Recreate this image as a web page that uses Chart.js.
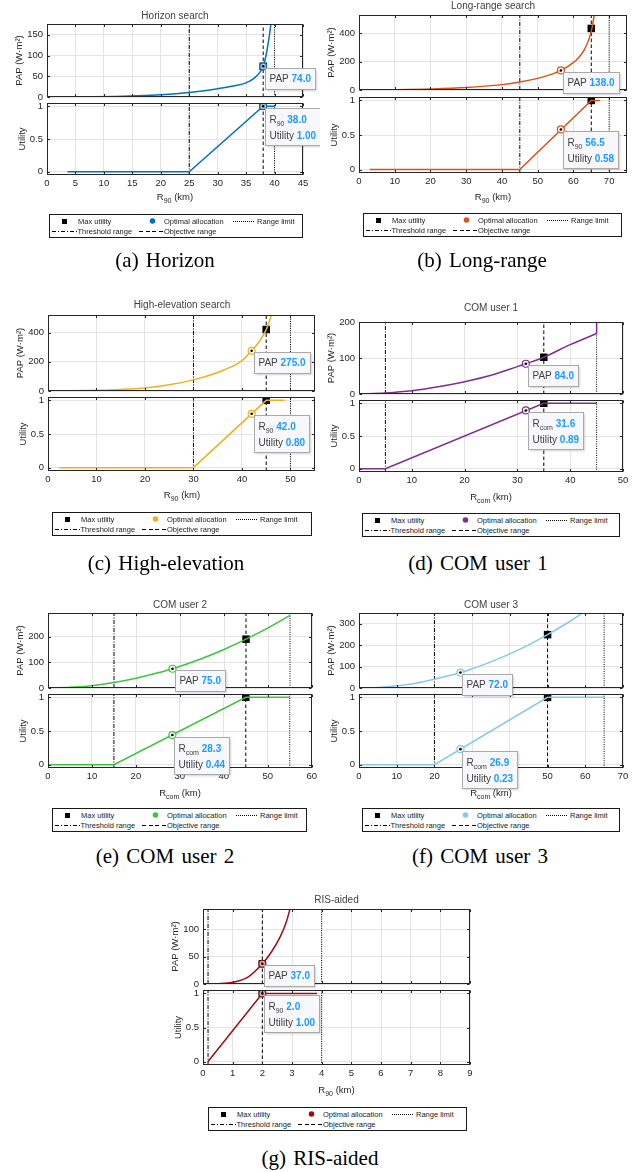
<!DOCTYPE html>
<html>
<head>
<meta charset="utf-8">
<script src="https://cdn.jsdelivr.net/npm/chart.js@4.4.1/dist/chart.umd.min.js"></script>
<style>
  body { margin: 0; background: #fff; }
  #page { position: relative; width: 639px; height: 1172px; overflow: hidden;
          font-family: 'Liberation Sans', Arial, Helvetica, sans-serif; }
  canvas { position: absolute; }
  .title { position: absolute; font-size: 10px; line-height: 12px; color: #404040;
           transform: translate(-50%, -50%); white-space: nowrap; }
  .xlabel { position: absolute; font-size: 9.5px; line-height: 12px; color: #262626;
            transform: translate(-50%, -50%); white-space: nowrap; }
  .xlabel sub { font-size: 7px; line-height: 0; vertical-align: -3px; }
  .legend { position: absolute; box-sizing: border-box; height: 24px; border: 1px solid #1a1a1a;
            background: #fff; font-size: 7.5px; color: #1a1a1a; }
  .legend span { position: absolute; line-height: 9px; white-space: nowrap; }
  .legend svg { position: absolute; left: 0; top: 0; }
  .caption { position: absolute; font-family: 'Liberation Serif', 'Times New Roman', serif;
             font-size: 21px; line-height: 21px; color: #000; transform: translateX(-50%);
             white-space: nowrap; word-spacing: 2px; }
</style>
</head>
<body>
<div id="page"></div>
<script>
// Horizon search
const horizonR = [3.6, 8, 12, 16, 20, 25, 30, 33, 35, 36.5, 37.5, 38, 38.5, 39, 39.4];
const horizonPap = [0, 0.6, 1.5, 3, 5.5, 11, 20, 27, 34, 46, 61, 74, 100, 140, 180];
const horizonUtilR = [3.6, 25, 38, 40];
const horizonUtil = [0, 0, 1, 1];
const horizonRanges = [25, 38, 40];        // threshold, objective, range limit
const horizonMax = [38, 74];               // R and PAP at max utility
const horizonOptimal = [38, 74, 1.00];     // R, PAP, utility
const horizonLimits = [45, 176];           // x max, PAP max
const horizonPapTicks = [0, 50, 100, 150];
const horizonXTicks = [0, 5, 10, 15, 20, 25, 30, 35, 40, 45];

// Long-range search
const longR = [3, 10, 20, 30, 40, 45, 50, 54, 56.5, 59, 61, 63, 64.5, 65.3, 66];
const longPap = [0, 2, 7, 17, 38, 56, 82, 112, 138, 176, 215, 282, 370, 450, 560];
const longUtilR = [3, 45, 65, 67.5];
const longUtil = [0, 0, 1, 1];
const longRanges = [45, 65, 70];
const longMax = [65, 435];
const longOptimal = [56.5, 138, 0.58];
const longLimits = [75, 530];
const longPapTicks = [0, 200, 400];
const longXTicks = [0, 10, 20, 30, 40, 50, 60, 70];

// High-elevation search
const highR = [2.3, 10, 15, 20, 25, 30, 35, 38, 40, 42, 43.5, 45, 46.3];
const highPap = [0, 5, 11, 21, 42, 76, 127, 168, 208, 275, 335, 420, 540];
const highUtilR = [2.3, 30, 45, 48.8];
const highUtil = [0, 0, 1, 1];
const highRanges = [30, 45, 50];
const highMax = [45, 420];
const highOptimal = [42, 275, 0.80];
const highLimits = [55, 520];
const highPapTicks = [0, 200, 400];
const highXTicks = [0, 10, 20, 30, 40, 50];

// COM user 1 (the PAP curve jumps straight up at the range limit)
const com1R = [0, 5, 10, 15, 20, 25, 30, 31.6, 35, 40, 45];
const com1Pap = [0, 3, 9, 20, 34, 52, 76, 84, 102, 137, 168];
const com1JumpR = [45, 45];
const com1JumpPap = [168, 215];
const com1UtilR = [0, 5, 35, 45];
const com1Util = [0, 0, 1, 1];
const com1Ranges = [5, 35, 45];
const com1Max = [35, 102];
const com1Optimal = [31.6, 84, 0.89];
const com1Limits = [50, 200];
const com1PapTicks = [0, 100, 200];
const com1XTicks = [0, 10, 20, 30, 40, 50];

// COM user 2
const com2R = [0, 5, 10, 15, 20, 25, 28.3, 35, 40, 45, 50, 55];
const com2Pap = [0, 2.5, 9, 21, 38, 59, 75, 115, 150, 190, 234, 283];
const com2UtilR = [0, 15, 45, 55];
const com2Util = [0, 0, 1, 1];
const com2Ranges = [15, 45, 55];
const com2Max = [45, 190];
const com2Optimal = [28.3, 75, 0.44];
const com2Limits = [60, 292];
const com2PapTicks = [0, 100, 200];
const com2XTicks = [0, 10, 20, 30, 40, 50, 60];

// COM user 3
const com3R = [0, 5, 10, 15, 20, 26.9, 30, 35, 40, 45, 50, 55, 60];
const com3Pap = [0, 2.5, 10, 22, 41, 72, 90, 122, 159, 201, 249, 301, 358];
const com3UtilR = [0, 20, 50, 65];
const com3Util = [0, 0, 1, 1];
const com3Ranges = [20, 50, 65];
const com3Max = [50, 249];
const com3Optimal = [26.9, 72, 0.23];
const com3Limits = [70, 350];
const com3PapTicks = [0, 100, 200, 300];
const com3XTicks = [0, 10, 20, 30, 40, 50, 60, 70];

// RIS-aided
const risR = [0.17, 0.5, 1, 1.5, 2, 2.3, 2.6, 2.8, 2.95];
const risPap = [0, 0.5, 3, 12, 37, 58, 86, 112, 140];
const risUtilR = [0.17, 2, 3.85];
const risUtil = [0, 1, 1];
const risRanges = [0.17, 2, 4];
const risMax = [2, 37];
const risOptimal = [2, 37, 1.00];
const risLimits = [9, 137];
const risPapTicks = [0, 50, 100];
const risXTicks = [0, 1, 2, 3, 4, 5, 6, 7, 8, 9];

const utilLimits = [-0.05, 1.05];
const utilTicks = [0, 0.5, 1];

const FONT = "'Liberation Sans', Arial, Helvetica, sans-serif";
const AXIS_TEXT = '#262626';
const GRID = '#e4e4e4';
const DASHES = [[4, 1.5, 1, 1.5], [3.5, 2.5], [1, 1.3]];

const panels = [
  { name: 'Horizon search', tag: '(a)', caption: 'Horizon', sub: '90', color: '#0072BD',
    papR: horizonR, pap: horizonPap, utilR: horizonUtilR, util: horizonUtil, ranges: horizonRanges,
    maxPoint: horizonMax, optimal: horizonOptimal, limits: horizonLimits, papTicks: horizonPapTicks, xTicks: horizonXTicks },
  { name: 'Long-range search', tag: '(b)', caption: 'Long-range', sub: '90', color: '#D95319',
    papR: longR, pap: longPap, utilR: longUtilR, util: longUtil, ranges: longRanges,
    maxPoint: longMax, optimal: longOptimal, limits: longLimits, papTicks: longPapTicks, xTicks: longXTicks },
  { name: 'High-elevation search', tag: '(c)', caption: 'High-elevation', sub: '90', color: '#EDB120',
    papR: highR, pap: highPap, utilR: highUtilR, util: highUtil, ranges: highRanges,
    maxPoint: highMax, optimal: highOptimal, limits: highLimits, papTicks: highPapTicks, xTicks: highXTicks },
  { name: 'COM user 1', tag: '(d)', caption: 'COM user 1', sub: 'com', color: '#7E2F8E',
    papR: com1R, pap: com1Pap, jumpR: com1JumpR, jumpPap: com1JumpPap, utilR: com1UtilR, util: com1Util, ranges: com1Ranges,
    maxPoint: com1Max, optimal: com1Optimal, limits: com1Limits, papTicks: com1PapTicks, xTicks: com1XTicks },
  { name: 'COM user 2', tag: '(e)', caption: 'COM user 2', sub: 'com', color: '#3cc43c',
    papR: com2R, pap: com2Pap, utilR: com2UtilR, util: com2Util, ranges: com2Ranges,
    maxPoint: com2Max, optimal: com2Optimal, limits: com2Limits, papTicks: com2PapTicks, xTicks: com2XTicks },
  { name: 'COM user 3', tag: '(f)', caption: 'COM user 3', sub: 'com', color: '#86c9e8',
    papR: com3R, pap: com3Pap, utilR: com3UtilR, util: com3Util, ranges: com3Ranges,
    maxPoint: com3Max, optimal: com3Optimal, limits: com3Limits, papTicks: com3PapTicks, xTicks: com3XTicks },
  { name: 'RIS-aided', tag: '(g)', caption: 'RIS-aided', sub: '90', color: '#9a0e12',
    papR: risR, pap: risPap, utilR: risUtilR, util: risUtil, ranges: risRanges,
    maxPoint: risMax, optimal: risOptimal, limits: risLimits, papTicks: risPapTicks, xTicks: risXTicks }
];

// page placement of each subfigure (canvas box, plot boxes, texts)
const layouts = [
  { left: 0,   top: 0,   w: 320, h: 212, plotL: 47,  plotR: 303, topT: 24,  topB: 97,  botT: 103, botB: 175,
    titleY: 16,  xTitleY: 197,  legL: 49,  legT: 214,  legW: 254, capX: 165, capY: 267 },
  { left: 320, top: 0,   w: 319, h: 212, plotL: 359, plotR: 627, topT: 15,  topB: 90,  botT: 97,  botB: 173,
    titleY: 6,   xTitleY: 197,  legL: 363, legT: 213,  legW: 259, capX: 482, capY: 267 },
  { left: 0,   top: 290, w: 320, h: 220, plotL: 48,  plotR: 316, topT: 315, topB: 391, botT: 397, botB: 471,
    titleY: 305, xTitleY: 495,  legL: 52,  legT: 512,  legW: 260, capX: 166, capY: 570 },
  { left: 320, top: 290, w: 319, h: 220, plotL: 359, plotR: 623, topT: 322, topB: 394, botT: 400, botB: 472,
    titleY: 308, xTitleY: 497,  legL: 362, legT: 513,  legW: 258, capX: 478, capY: 570 },
  { left: 0,   top: 590, w: 320, h: 215, plotL: 48,  plotR: 312, topT: 613, topB: 688, botT: 694, botB: 768,
    titleY: 605, xTitleY: 793,  legL: 52,  legT: 808,  legW: 255, capX: 165, capY: 863 },
  { left: 320, top: 590, w: 319, h: 215, plotL: 359, plotR: 623, topT: 613, topB: 688, botT: 694, botB: 768,
    titleY: 605, xTitleY: 793,  legL: 362, legT: 808,  legW: 258, capX: 480, capY: 863 },
  { left: 160, top: 890, w: 320, h: 215, plotL: 203, plotR: 470, topT: 909, topB: 984, botT: 990, botB: 1065,
    titleY: 900, xTitleY: 1090, legL: 208, legT: 1107, legW: 259, capX: 320, capY: 1165 }
];

Chart.defaults.font.family = FONT;
Chart.defaults.animation = false;

function drawTip(ctx, px, py, rows) {
  const labelFont = '10px ' + FONT, subFont = '7px ' + FONT, valueFont = 'bold 10px ' + FONT;
  ctx.save();
  const widths = rows.map(r => {
    ctx.font = labelFont;
    let w = ctx.measureText(r.label + ' ').width;
    if (r.sub) { ctx.font = subFont; w += ctx.measureText(r.sub).width; }
    ctx.font = valueFont;
    return w + ctx.measureText(r.value).width;
  });
  const w = Math.ceil(Math.max(...widths)) + 8;
  const h = rows.length === 1 ? 21 : 37;
  const x0 = Math.round(px + 2) + 0.5, y0 = Math.round(py + 1.5) + 0.5;
  ctx.shadowColor = 'rgba(0,0,0,0.18)';
  ctx.shadowBlur = 2; ctx.shadowOffsetX = 1; ctx.shadowOffsetY = 1;
  ctx.fillStyle = '#f8f8fc';
  ctx.fillRect(x0, y0, w, h);
  ctx.shadowColor = 'transparent';
  ctx.strokeStyle = '#a9a9a9'; ctx.lineWidth = 1;
  ctx.strokeRect(x0, y0, w, h);
  ctx.textBaseline = 'middle';
  rows.forEach((r, i) => {
    let x = x0 + 4;
    const y = y0 + (rows.length === 1 ? 10.5 : 11.5 + i * 16.5);
    ctx.fillStyle = '#404040';
    ctx.font = labelFont;
    ctx.fillText(r.label, x, y);
    x += ctx.measureText(r.label).width;
    if (r.sub) {
      ctx.font = subFont;
      ctx.fillText(r.sub, x, y + 4);
      x += ctx.measureText(r.sub).width;
    }
    ctx.font = labelFont;
    x += ctx.measureText(' ').width;
    ctx.fillStyle = '#1c9bff';
    ctx.font = valueFont;
    ctx.fillText(r.value, x, y);
  });
  ctx.fillStyle = '#000';
  ctx.beginPath();
  ctx.arc(px, py, 1.3, 0, Math.PI * 2);
  ctx.fill();
  ctx.restore();
}

// axes box with inward ticks, and the data tip on top of everything
const axesFrame = {
  id: 'axesFrame',
  afterDatasetsDraw(chart) {
    const { ctx, chartArea: a, scales: { x, y } } = chart;
    const l = Math.round(a.left) + 0.5, r = Math.round(a.right) - 0.5;
    const t = Math.round(a.top) + 0.5, b = Math.round(a.bottom) - 0.5;
    ctx.save();
    ctx.strokeStyle = '#262626';
    ctx.lineWidth = 1;
    ctx.strokeRect(l, t, r - l, b - t);
    ctx.beginPath();
    x.ticks.forEach(tk => {
      const px = Math.round(x.getPixelForValue(tk.value)) + 0.5;
      ctx.moveTo(px, b); ctx.lineTo(px, b - 2.5);
      ctx.moveTo(px, t); ctx.lineTo(px, t + 2.5);
    });
    y.ticks.forEach(tk => {
      const py = Math.round(y.getPixelForValue(tk.value)) + 0.5;
      ctx.moveTo(l, py); ctx.lineTo(l + 2.5, py);
      ctx.moveTo(r, py); ctx.lineTo(r - 2.5, py);
    });
    ctx.stroke();
    ctx.restore();
  },
  afterDraw(chart, args, opts) {
    if (!opts.point) return;
    const { x, y } = chart.scales;
    drawTip(chart.ctx, x.getPixelForValue(opts.point[0]), y.getPixelForValue(opts.point[1]), opts.rows);
  }
};

function buildChart(canvas, p, L, isTop) {
  const xs = isTop ? p.papR : p.utilR;
  const ys = isTop ? p.pap : p.util;
  const yMin = isTop ? 0 : utilLimits[0];
  const yMax = isTop ? p.limits[1] : utilLimits[1];
  const optY = isTop ? p.optimal[1] : p.optimal[2];
  const datasets = [
    { data: [{ x: p.optimal[0], y: optY }], showLine: false, pointStyle: 'circle', pointRadius: 3.5,
      pointBorderWidth: 1.2, pointBorderColor: p.color, pointBackgroundColor: 'rgba(255,255,255,0.7)', order: 0 },
    { data: xs.map((v, i) => ({ x: v, y: ys[i] })), borderColor: p.color, borderWidth: 1.5, pointRadius: 0,
      cubicInterpolationMode: isTop ? 'monotone' : 'default', tension: 0, order: 1 },
    { data: [{ x: p.maxPoint[0], y: isTop ? p.maxPoint[1] : 1 }], showLine: false, pointStyle: 'rect',
      pointRadius: 5.3, pointBorderWidth: 0, pointBackgroundColor: '#000', pointBorderColor: '#000', order: 2 }
  ];
  if (isTop && p.jumpR) {
    datasets.push({ data: p.jumpR.map((v, i) => ({ x: v, y: p.jumpPap[i] })), borderColor: p.color,
      borderWidth: 1.5, pointRadius: 0, tension: 0, order: 1 });
  }
  p.ranges.forEach((r, i) => datasets.push({
    data: [{ x: r, y: yMin }, { x: r, y: yMax }], borderColor: '#000', borderWidth: 1,
    borderDash: DASHES[i], pointRadius: 0, order: 3
  }));

  const rows = isTop
    ? [{ label: 'PAP', value: p.optimal[1].toFixed(1) }]
    : [{ label: 'R', sub: p.sub, value: p.optimal[0].toFixed(1) }, { label: 'Utility', value: p.optimal[2].toFixed(2) }];

  const axisW = L.plotL - L.left;
  const xAxisH = isTop ? 0 : 20;
  const plotT = isTop ? L.topT : L.botT;
  const plotB = isTop ? L.topB : L.botB;
  const titleOffset = isTop ? 28 : 25;
  const tickFont = { size: 9.5 };

  return new Chart(canvas, {
    type: 'line',
    data: { datasets },
    plugins: [axesFrame],
    options: {
      responsive: false,
      events: [],
      layout: { padding: { left: 0, top: plotT - L.top, right: L.left + L.w - L.plotR, bottom: L.top + L.h - plotB - xAxisH } },
      plugins: {
        legend: { display: false },
        tooltip: { enabled: false },
        axesFrame: { point: [p.optimal[0], optY], rows }
      },
      scales: {
        x: {
          type: 'linear', min: 0, max: p.limits[0],
          afterBuildTicks: s => { s.ticks = p.xTicks.map(v => ({ value: v })); },
          afterFit: s => { s.height = xAxisH; },
          grid: { color: GRID, drawTicks: false },
          border: { display: false },
          ticks: { display: !isTop, padding: 3, color: AXIS_TEXT, font: tickFont, maxRotation: 0, autoSkip: false,
                   callback: v => String(v) }
        },
        y: {
          type: 'linear', min: yMin, max: yMax,
          afterBuildTicks: s => { s.ticks = (isTop ? p.papTicks : utilTicks).map(v => ({ value: v })); },
          afterFit: s => { s.width = axisW; },
          grid: { color: GRID, drawTicks: false },
          border: { display: false },
          ticks: { padding: 4, color: AXIS_TEXT, font: tickFont, callback: v => String(v) },
          title: {
            display: true, text: isTop ? 'PAP (W\u00b7m\u00b2)' : 'Utility', color: AXIS_TEXT,
            font: { size: 9.5 }, padding: { top: axisW - titleOffset - 5.7, bottom: 0 }
          }
        }
      }
    }
  });
}

function addDiv(cls, html, css) {
  const d = document.createElement('div');
  d.className = cls;
  d.innerHTML = html;
  Object.assign(d.style, css);
  page.appendChild(d);
  return d;
}

function addLegend(p, L) {
  const svg =
    `<svg width="${L.legW}" height="22" shape-rendering="crispEdges">` +
    `<rect x="11.5" y="3.5" width="5" height="5" fill="#000"/>` +
    `<circle cx="102.5" cy="6" r="2.8" fill="${p.color}" shape-rendering="auto"/>` +
    `<line x1="183" y1="6.5" x2="205" y2="6.5" stroke="#000" stroke-width="1" stroke-dasharray="1 1"/>` +
    `<line x1="2" y1="16.5" x2="27" y2="16.5" stroke="#000" stroke-width="1" stroke-dasharray="4 2 1 2"/>` +
    `<line x1="89" y1="16.5" x2="113" y2="16.5" stroke="#000" stroke-width="1" stroke-dasharray="4 2.5"/>` +
    `</svg>`;
  const labels =
    `<span style="left:28px;top:1.5px">Max utility</span>` +
    `<span style="left:114px;top:1.5px">Optimal allocation</span>` +
    `<span style="left:207px;top:1.5px">Range limit</span>` +
    `<span style="left:27.5px;top:11.5px">Threshold range</span>` +
    `<span style="left:114px;top:11.5px">Objective range</span>`;
  addDiv('legend', svg + labels, { left: L.legL + 'px', top: L.legT + 'px', width: L.legW + 'px' });
}

const page = document.getElementById('page');

panels.forEach((p, i) => {
  const L = layouts[i];
  ['util', 'pap'].forEach(part => {
    const c = document.createElement('canvas');
    c.width = L.w; c.height = L.h;
    c.style.left = L.left + 'px';
    c.style.top = L.top + 'px';
    page.appendChild(c);
    buildChart(c, p, L, part === 'pap');
  });
  const cx = (L.plotL + L.plotR) / 2;
  addDiv('title', p.name, { left: cx + 'px', top: L.titleY + 'px' });
  addDiv('xlabel', `R<sub>${p.sub}</sub> (km)`, { left: cx + 'px', top: L.xTitleY + 'px' });
  addLegend(p, L);
  addDiv('caption', `${p.tag} ${p.caption}`, { left: L.capX + 'px', top: (L.capY - 17) + 'px' });
});
</script>
</body>
</html>
